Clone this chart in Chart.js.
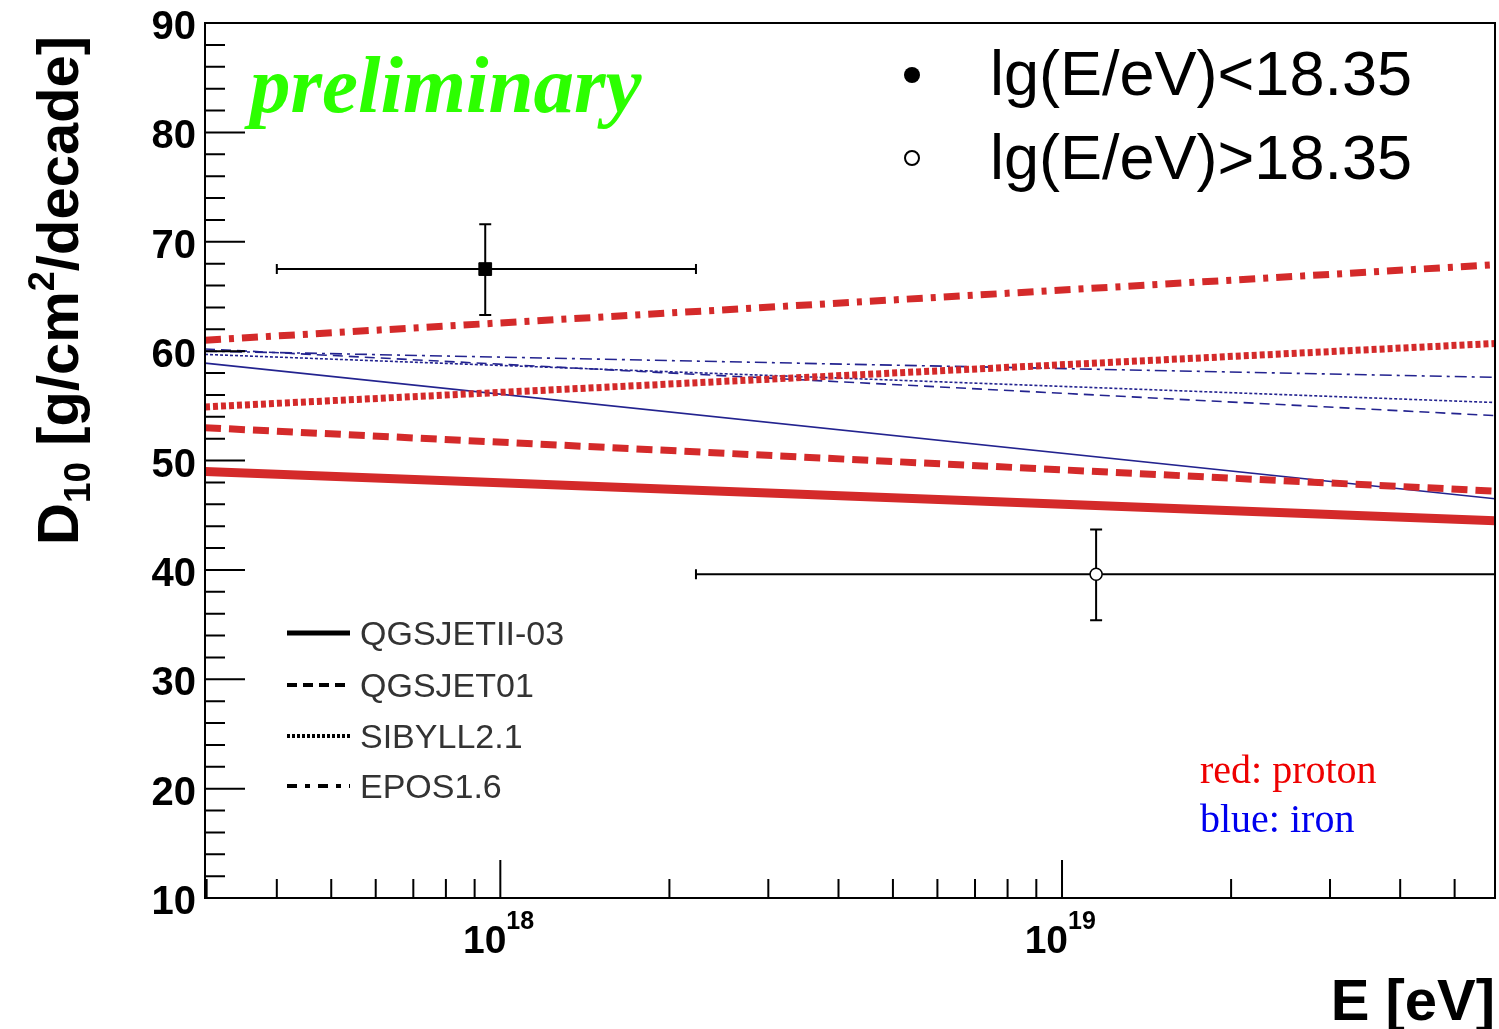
<!DOCTYPE html>
<html>
<head>
<meta charset="utf-8">
<script src="https://cdn.jsdelivr.net/npm/chart.js@4/dist/chart.umd.min.js"></script>
<style>
  html, body { margin: 0; padding: 0; background: #fff; }
  #wrap { width: 1499px; height: 1029px; }
</style>
</head>
<body>
<div id="wrap"><canvas id="d10Chart" width="1499" height="1029"></canvas></div>
<script>
// --- data ---
const energyRange = [2.98e17, 5.9e19];
const models = ['QGSJETII-03', 'QGSJET01', 'SIBYLL2.1', 'EPOS1.6'];
const protonStart = [49.0, 53.0, 54.9, 61.0];
const protonEnd = [44.5, 47.2, 60.7, 67.9];
const ironStart = [58.9, 60.2, 59.7, 60.0];
const ironEnd = [46.5, 54.1, 55.3, 57.6];

const pointE = [9.4e17, 1.15e19];
const pointD = [67.5, 39.6];
const pointElo = [4.0e17, 2.23e18];
const pointEhi = [2.23e18, 1e20];
const pointDlo = [63.3, 35.4];
const pointDhi = [71.6, 43.7];
const pointLabels = ['lg(E/eV)<18.35', 'lg(E/eV)>18.35'];

const yTicks = [10, 20, 30, 40, 50, 60, 70, 80, 90];

// styles per model
const protonColor = '#d42a2a';
const ironColor = '#23238f';
const protonDash = [[], [16, 8], [5, 3], [16, 8, 5, 8]];
const ironDash = [[], [10, 6], [3, 2], [12, 5, 3, 5]];
const legendDash = [[], [10, 6], [3, 2], [10, 8, 5, 8]];

const datasets = [];
models.forEach((m, i) => {
    datasets.push({
        type: 'line', label: 'p ' + m,
        data: [{ x: energyRange[0], y: protonStart[i] }, { x: energyRange[1], y: protonEnd[i] }],
        borderColor: protonColor, borderWidth: i === 0 ? 9 : 7, borderDash: protonDash[i],
        pointRadius: 0, fill: false, tension: 0
    });
});
models.forEach((m, i) => {
    datasets.push({
        type: 'line', label: 'Fe ' + m,
        data: [{ x: energyRange[0], y: ironStart[i] }, { x: energyRange[1], y: ironEnd[i] }],
        borderColor: ironColor, borderWidth: 1.6, borderDash: ironDash[i],
        pointRadius: 0, fill: false, tension: 0
    });
});
datasets.push({
    type: 'scatter', label: pointLabels[0],
    data: [{ x: pointE[0], y: pointD[0] }],
    pointStyle: 'rect', pointRadius: 9, backgroundColor: '#000', borderColor: '#000'
});
datasets.push({
    type: 'scatter', label: pointLabels[1],
    data: [{ x: pointE[1], y: pointD[1] }],
    pointStyle: 'circle', pointRadius: 6, backgroundColor: '#fff', borderColor: '#000', borderWidth: 1.5
});

// error bars from the arrays above
const errorBars = {
    id: 'errorBars',
    afterDatasetsDraw(chart) {
        const { ctx, chartArea, scales: { x, y } } = chart;
        ctx.save();
        ctx.beginPath();
        ctx.rect(chartArea.left, chartArea.top, chartArea.right - chartArea.left, chartArea.bottom - chartArea.top);
        ctx.clip();
        ctx.strokeStyle = '#000';
        ctx.lineWidth = 2;
        pointE.forEach((e, i) => {
            const px = x.getPixelForValue(e), py = y.getPixelForValue(pointD[i]);
            const x0 = x.getPixelForValue(pointElo[i]), x1 = x.getPixelForValue(pointEhi[i]);
            const y0 = y.getPixelForValue(pointDlo[i]), y1 = y.getPixelForValue(pointDhi[i]);
            ctx.beginPath();
            ctx.moveTo(x0, py); ctx.lineTo(i === 1 ? px - 6 : x0, py);
            ctx.moveTo(i === 1 ? px + 6 : x0, py); ctx.lineTo(x1, py);
            ctx.moveTo(x0, py - 5); ctx.lineTo(x0, py + 5);
            ctx.moveTo(x1, py - 5); ctx.lineTo(x1, py + 5);
            ctx.moveTo(px, y0); ctx.lineTo(px, i === 1 ? py + 6 : py);
            ctx.moveTo(px, i === 1 ? py - 6 : py); ctx.lineTo(px, y1);
            ctx.moveTo(px - 6, y0); ctx.lineTo(px + 6, y0);
            ctx.moveTo(px - 6, y1); ctx.lineTo(px + 6, y1);
            ctx.stroke();
        });
        ctx.restore();
    }
};

// ROOT style frame, inward ticks and labels
const rootAxes = {
    id: 'rootAxes',
    afterDraw(chart) {
        const { ctx, chartArea: a, scales: { x, y } } = chart;
        ctx.save();
        ctx.strokeStyle = '#000';
        ctx.lineWidth = 2;
        ctx.strokeRect(a.left, a.top, a.right - a.left, a.bottom - a.top);

        // y ticks
        ctx.beginPath();
        for (let v = 10; v <= 90; v += 2) {
            const py = y.getPixelForValue(v);
            const len = v % 10 === 0 ? 40 : 20;
            ctx.moveTo(a.left, py); ctx.lineTo(a.left + len, py);
        }
        // x ticks
        for (let n = 17; n <= 19; n++) {
            for (let m = 1; m <= 9; m++) {
                const v = m * Math.pow(10, n);
                if (v < energyRange[0] || v > energyRange[1]) continue;
                const px = x.getPixelForValue(v);
                const len = m === 1 ? 38 : 19;
                ctx.moveTo(px, a.bottom); ctx.lineTo(px, a.bottom - len);
            }
        }
        ctx.stroke();

        ctx.fillStyle = '#000';
        ctx.font = 'bold 40px "Liberation Sans", Arial, sans-serif';
        ctx.textAlign = 'right';
        ctx.textBaseline = 'middle';
        yTicks.forEach(v => ctx.fillText(String(v), 196, y.getPixelForValue(v) + 5));

        [18, 19].forEach(n => {
            const px = x.getPixelForValue(Math.pow(10, n));
            ctx.font = 'bold 39px "Liberation Sans", Arial, sans-serif';
            ctx.textAlign = 'right';
            ctx.textBaseline = 'alphabetic';
            ctx.fillText('10', px + 6, 953);
            ctx.font = 'bold 25px "Liberation Sans", Arial, sans-serif';
            ctx.textAlign = 'left';
            ctx.fillText(String(n), px + 6, 929);
        });

        // axis titles
        ctx.font = 'bold 58px "Liberation Sans", Arial, sans-serif';
        ctx.textAlign = 'right';
        ctx.fillText('E [eV]', 1495, 1020);

        ctx.save();
        ctx.translate(78, 545);
        ctx.rotate(-Math.PI / 2);
        ctx.textAlign = 'left';
        let cx = 0;
        const seg = (t, size, dy) => {
            ctx.font = 'bold ' + size + 'px "Liberation Sans", Arial, sans-serif';
            ctx.fillText(t, cx, dy);
            cx += ctx.measureText(t).width;
        };
        seg('D', 58, 0); seg('10', 37, 12); seg(' [g/cm', 58, 0); seg('2', 36, -24); seg('/decade]', 58, 0);
        ctx.restore();

        // preliminary
        ctx.fillStyle = '#2cff00';
        ctx.font = 'italic bold 81px "Liberation Serif", "DejaVu Serif", serif';
        ctx.textAlign = 'left';
        ctx.fillText('preliminary', 250, 112);

        // marker legend
        ctx.fillStyle = '#000';
        ctx.beginPath(); ctx.arc(912, 75, 8, 0, Math.PI * 2); ctx.fill();
        ctx.lineWidth = 2;
        ctx.beginPath(); ctx.arc(912, 158, 7, 0, Math.PI * 2); ctx.stroke();
        ctx.font = '63px "Liberation Sans", Arial, sans-serif';
        ctx.fillText(pointLabels[0], 990, 95);
        ctx.fillText(pointLabels[1], 990, 179);

        // model legend
        ctx.fillStyle = '#333';
        ctx.strokeStyle = '#000';
        ctx.font = '34px "Liberation Sans", Arial, sans-serif';
        const legY = [633, 685, 736, 786];
        models.forEach((m, i) => {
            ctx.lineWidth = i === 0 ? 5 : 4;
            ctx.setLineDash(legendDash[i]);
            ctx.beginPath(); ctx.moveTo(287, legY[i]); ctx.lineTo(350, legY[i]); ctx.stroke();
            ctx.setLineDash([]);
            ctx.fillText(m, 360, legY[i] + 12);
        });

        ctx.font = '40px "Liberation Serif", "Times New Roman", serif';
        ctx.fillStyle = '#ee0000';
        ctx.fillText('red: proton', 1200, 783);
        ctx.fillStyle = '#0000ee';
        ctx.fillText('blue: iron', 1200, 832);
        ctx.restore();
    }
};

new Chart(document.getElementById('d10Chart'), {
    type: 'scatter',
    data: { datasets },
    options: {
        responsive: false,
        animation: false,
        layout: { autoPadding: false, padding: { left: 205, top: 23, right: 4, bottom: 131 } },
        plugins: { legend: { display: false }, tooltip: { enabled: false } },
        scales: {
            x: { type: 'logarithmic', min: energyRange[0], max: energyRange[1], display: false },
            y: { type: 'linear', min: 10, max: 90, display: false }
        }
    },
    plugins: [errorBars, rootAxes]
});
</script>
</body>
</html>
